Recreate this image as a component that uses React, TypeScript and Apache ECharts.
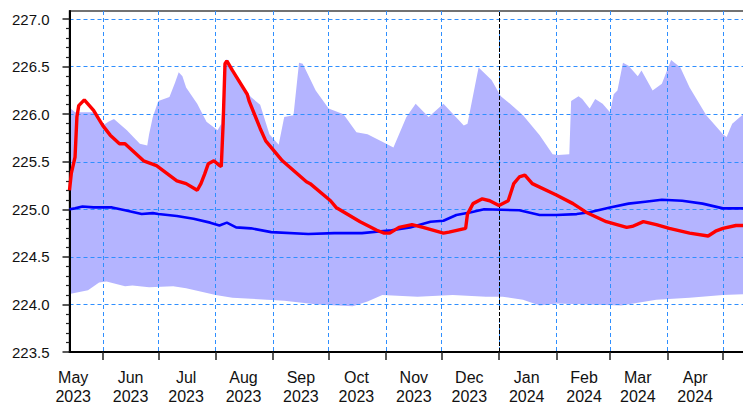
import React, { useEffect, useRef } from "react";
import * as echarts from "echarts";

// ---- Data ----
const upperDates = [
  "2023-05-14", "2023-05-17", "2023-05-27", "2023-06-01", "2023-06-04", "2023-06-07", "2023-06-14",
  "2023-06-21", "2023-06-25", "2023-06-26", "2023-06-28", "2023-07-01", "2023-07-07", "2023-07-10",
  "2023-07-12", "2023-07-14", "2023-07-16", "2023-07-22", "2023-07-27", "2023-08-02", "2023-08-04",
  "2023-08-06", "2023-08-07", "2023-08-10", "2023-08-18", "2023-08-20", "2023-08-25", "2023-08-30",
  "2023-09-04", "2023-09-07", "2023-09-12", "2023-09-15", "2023-09-17", "2023-09-24", "2023-10-01",
  "2023-10-09", "2023-10-16", "2023-10-22", "2023-10-30", "2023-11-05", "2023-11-12", "2023-11-17",
  "2023-11-24", "2023-12-02", "2023-12-13", "2023-12-15", "2023-12-21", "2023-12-28", "2024-01-02",
  "2024-01-07", "2024-01-14", "2024-01-23", "2024-01-30", "2024-02-02", "2024-02-08", "2024-02-09",
  "2024-02-13", "2024-02-15", "2024-02-19", "2024-02-22", "2024-02-26", "2024-03-01", "2024-03-03",
  "2024-03-05", "2024-03-08", "2024-03-11", "2024-03-16", "2024-03-18", "2024-03-24", "2024-03-29",
  "2024-04-03", "2024-04-08", "2024-04-13", "2024-04-22", "2024-05-01", "2024-05-03", "2024-05-06",
  "2024-05-12", "2024-05-14",
];
const upperValues = [
  226.07, 226.02, 226.02, 225.88, 225.92, 225.95, 225.83,
  225.69, 225.67, 225.79, 225.97, 226.14, 226.18, 226.33,
  226.44, 226.40, 226.28, 226.11, 225.92, 225.83, 225.90,
  226.53, 226.58, 226.48, 226.23, 226.18, 226.10, 225.79,
  225.68, 225.97, 225.99, 226.54, 226.53, 226.25, 226.06,
  226.00, 225.81, 225.79, 225.71, 225.65, 225.97, 226.11,
  225.97, 226.11, 225.88, 225.90, 226.49, 226.36, 226.19,
  226.11, 225.99, 225.78, 225.58, 225.57, 225.58, 226.14,
  226.19, 226.16, 226.06, 226.16, 226.11, 226.02, 226.21,
  226.25, 226.54, 226.51, 226.40, 226.46, 226.25, 226.32,
  226.57, 226.49, 226.28, 225.99, 225.79, 225.76, 225.90,
  226.00, 226.02,
];

const lowerDates = [
  "2023-05-14", "2023-05-24", "2023-05-30", "2023-06-03", "2023-06-13", "2023-06-17", "2023-06-26",
  "2023-07-09", "2023-07-16", "2023-08-01", "2023-08-10", "2023-08-20", "2023-09-07", "2023-09-25",
  "2023-10-14", "2023-10-22", "2023-10-30", "2023-11-18", "2023-12-07", "2023-12-25", "2024-01-03",
  "2024-01-14", "2024-01-23", "2024-02-01", "2024-02-19", "2024-03-07", "2024-03-26", "2024-04-13",
  "2024-05-01", "2024-05-14",
];
const lowerValues = [
  224.11, 224.15, 224.23, 224.24, 224.19, 224.20, 224.18,
  224.19, 224.17, 224.10, 224.07, 224.06, 224.04, 224.00,
  223.98, 224.03, 224.10, 224.08, 224.10, 224.08, 224.08,
  224.05, 223.99, 224.01, 224.00, 223.99, 224.05, 224.07,
  224.10, 224.11,
];

const redDates = [
  "2023-05-14", "2023-05-15", "2023-05-17", "2023-05-18", "2023-05-19", "2023-05-22", "2023-05-27",
  "2023-06-01", "2023-06-05", "2023-06-10", "2023-06-13", "2023-06-23", "2023-06-30", "2023-07-11",
  "2023-07-16", "2023-07-22", "2023-07-24", "2023-07-26", "2023-07-28", "2023-07-31", "2023-08-03",
  "2023-08-04", "2023-08-05", "2023-08-06", "2023-08-07", "2023-08-10", "2023-08-18", "2023-08-19",
  "2023-08-25", "2023-08-28", "2023-09-06", "2023-09-19", "2023-09-21", "2023-10-02", "2023-10-05",
  "2023-10-18", "2023-10-27", "2023-10-31", "2023-11-03", "2023-11-08", "2023-11-15", "2023-11-21",
  "2023-12-02", "2023-12-05", "2023-12-14", "2023-12-15", "2023-12-18", "2023-12-23", "2023-12-27",
  "2024-01-01", "2024-01-06", "2024-01-09", "2024-01-12", "2024-01-15", "2024-01-19", "2024-02-01",
  "2024-02-10", "2024-02-17", "2024-02-28", "2024-03-10", "2024-03-13", "2024-03-19", "2024-03-26",
  "2024-04-02", "2024-04-13", "2024-04-23", "2024-04-27", "2024-05-01", "2024-05-08", "2024-05-14",
];
const redValues = [
  225.20, 225.38, 225.55, 225.97, 226.09, 226.15, 226.04,
  225.88, 225.78, 225.69, 225.69, 225.51, 225.46, 225.30,
  225.27, 225.20, 225.27, 225.37, 225.48, 225.51, 225.46,
  225.45, 225.90, 226.53, 226.56, 226.46, 226.21, 226.14,
  225.85, 225.72, 225.51, 225.29, 225.27, 225.09, 225.02,
  224.87, 224.78, 224.75, 224.75, 224.81, 224.84, 224.81,
  224.75, 224.76, 224.80, 224.95, 225.06, 225.11, 225.09,
  225.04, 225.09, 225.27, 225.34, 225.36, 225.27, 225.15,
  225.06, 224.97, 224.87, 224.81, 224.82, 224.87, 224.84,
  224.80, 224.75, 224.72, 224.77, 224.80, 224.83, 224.83,
];

const blueDates = [
  "2023-05-14", "2023-05-17", "2023-05-21", "2023-05-27", "2023-06-06", "2023-06-13", "2023-06-22",
  "2023-06-28", "2023-07-01", "2023-07-11", "2023-07-20", "2023-07-29", "2023-08-03", "2023-08-07",
  "2023-08-12", "2023-08-20", "2023-08-31", "2023-09-20", "2023-10-04", "2023-10-19", "2023-11-04",
  "2023-11-14", "2023-11-25", "2023-12-02", "2023-12-09", "2023-12-17", "2023-12-24", "2024-01-12",
  "2024-01-23", "2024-02-01", "2024-02-12", "2024-02-19", "2024-03-01", "2024-03-11", "2024-03-20",
  "2024-03-29", "2024-04-09", "2024-04-20", "2024-05-01", "2024-05-14",
];
const blueValues = [
  225.00, 225.01, 225.03, 225.02, 225.02, 224.99, 224.95,
  224.96, 224.95, 224.93, 224.90, 224.86, 224.83, 224.86,
  224.81, 224.80, 224.76, 224.74, 224.75, 224.75, 224.78,
  224.81, 224.87, 224.88, 224.94, 224.97, 225.00, 224.99,
  224.94, 224.94, 224.95, 224.97, 225.02, 225.06, 225.08,
  225.10, 225.09, 225.06, 225.01, 225.01,
];

const monthStarts = [
  "2023-06-01", "2023-07-01", "2023-08-01", "2023-09-01", "2023-10-01", "2023-11-01",
  "2023-12-01", "2024-01-01", "2024-02-01", "2024-03-01", "2024-04-01", "2024-05-01",
];
const monthLabelDates = [
  "2023-05-16", "2023-06-16", "2023-07-16", "2023-08-16", "2023-09-16", "2023-10-16",
  "2023-11-16", "2023-12-16", "2024-01-16", "2024-02-16", "2024-03-16", "2024-04-16",
];
const monthNames = ["Jan", "Feb", "Mar", "Apr", "May", "Jun", "Jul", "Aug", "Sep", "Oct", "Nov", "Dec"];
const yMajorTicks = [223.5, 224.0, 224.5, 225.0, 225.5, 226.0, 226.5, 227.0];
const markerDate = "2024-01-01";
const xStart = "2023-05-14";
const xEnd = "2024-05-14";

const ts = (d: string) => Date.parse(d + "T00:00:00Z");
const zip = (d: string[], v: number[]) => d.map((x, i) => [ts(x), v[i]]);

export default function App() {
  const ref = useRef<HTMLDivElement>(null);
  useEffect(() => {
    if (!ref.current) return;
    const chart = echarts.init(ref.current, null, { renderer: "svg" });
    const yMinorTicks: number[] = [];
    for (let i = 0; i < yMajorTicks.length - 1; i++) {
      for (let k = 1; k < 5; k++) yMinorTicks.push(+(yMajorTicks[i] + k * 0.1).toFixed(2));
    }
    const font = "'Liberation Sans', Arial, sans-serif";
    const gridDash = { color: "#2f8fff", width: 1, type: [4, 3] as any };
    chart.setOption({
      animation: false,
      backgroundColor: "#ffffff",
      grid: {
        left: 69.5,
        right: 13,
        top: 11,
        bottom: 53,
        show: true,
        borderColor: "#444",
        borderWidth: 1.5,
        backgroundColor: "transparent",
      },
      xAxis: {
        type: "value",
        min: ts(xStart),
        max: ts(xEnd),
        z: 3,
        axisLine: { show: true, onZero: false, lineStyle: { color: "#000", width: 2 } },
        axisTick: {
          show: true,
          customValues: monthStarts.map(ts),
          length: 8,
          lineStyle: { color: "#222", width: 1.5 },
        },
        axisLabel: {
          customValues: monthLabelDates.map(ts),
          margin: 16,
          fontSize: 16,
          lineHeight: 19,
          color: "#111",
          fontFamily: font,
          formatter: (v: number) => {
            const d = new Date(v);
            return monthNames[d.getUTCMonth()] + "\n" + d.getUTCFullYear();
          },
        },
        splitLine: { show: true, lineStyle: gridDash },
      },
      yAxis: [
        {
          type: "value",
          min: 223.5,
          max: 227.085,
          interval: 0.5,
          z: 3,
          axisLine: { show: true, onZero: false, lineStyle: { color: "#000", width: 2 } },
          axisTick: {
            show: true,
            customValues: yMajorTicks,
            length: 7,
            lineStyle: { color: "#222", width: 1.5 },
          },
          axisLabel: {
            customValues: yMajorTicks,
            margin: 20,
            fontSize: 15,
            color: "#111",
            fontFamily: font,
            formatter: (v: number) => v.toFixed(1),
          },
          splitLine: { show: true, lineStyle: gridDash },
        },
        {
          type: "value",
          position: "left",
          min: 223.5,
          max: 227.085,
          interval: 0.5,
          z: 3,
          axisLine: { show: false },
          axisTick: {
            show: true,
            customValues: yMinorTicks,
            length: 3.5,
            lineStyle: { color: "#222", width: 1.2 },
          },
          axisLabel: { show: false },
          splitLine: { show: false },
        },
      ],
      series: [
        {
          type: "line",
          name: "upper",
          data: zip(upperDates, upperValues),
          symbol: "none",
          z: 1,
          lineStyle: { width: 0, color: "#b4b4ff" },
          areaStyle: { color: "#b4b4ff", opacity: 1, origin: "start" },
          silent: true,
        },
        {
          type: "line",
          name: "lower",
          data: zip(lowerDates, lowerValues),
          symbol: "none",
          z: 1,
          lineStyle: { width: 0, color: "#ffffff" },
          areaStyle: { color: "#ffffff", opacity: 1, origin: "start" },
          silent: true,
        },
        {
          type: "line",
          name: "blue",
          data: zip(blueDates, blueValues),
          symbol: "none",
          z: 5,
          lineStyle: { width: 2.6, color: "#0000ff" },
          markLine: {
            silent: true,
            symbol: "none",
            label: { show: false },
            lineStyle: { color: "#000", width: 1, type: [4, 2] as any },
            data: [{ xAxis: ts(markerDate) }],
          },
        },
        {
          type: "line",
          name: "red",
          data: zip(redDates, redValues),
          symbol: "none",
          z: 6,
          lineStyle: { width: 3.4, color: "#ff0000" },
        },
      ],
    });
    return () => chart.dispose();
  }, []);
  return (
    <div style={{ position: "fixed", left: 0, top: 0, width: 743, height: 406, overflow: "hidden", background: "#fff" }}>
      <div ref={ref} style={{ width: 760, height: 406 }} />
    </div>
  );
}
